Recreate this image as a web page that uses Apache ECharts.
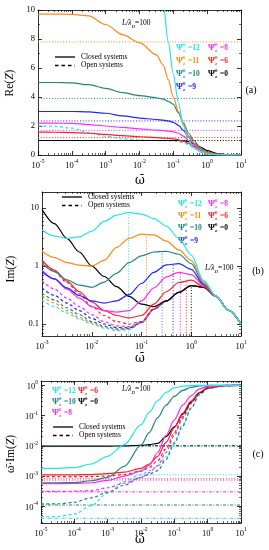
<!DOCTYPE html>
<html><head><meta charset="utf-8">
<script src="https://cdn.jsdelivr.net/npm/echarts@6/dist/echarts.min.js"></script>
<style>html,body{margin:0;padding:0;background:#fff}#c{width:269px;height:550px}</style>
</head><body><div id="c"></div>
<script>
// ================= DATA =================
const C = {cyan:'#22e3ee', orange:'#ff8a12', teal:'#23847f', blue:'#2323ff', magenta:'#ff28ff', red:'#ff2020', black:'#000000'};

// ---- Panel (a): Re(Z) vs log10(omega) ----
const expA = [-5,-4.5,-4,-3.5,-3,-2.5,-2,-1.5,-1.3,-1.15,-1,-0.85,-0.7,-0.55,-0.4,-0.2,0,0.3,0.6,1];
const reCyan    = [40,40,40,40,40,40,32,17,10.4,7.8,5.6,3.6,2.0,1.0,0.5,0.2,0.07,0.015,0.003,0];
const reOrange  = [9.72,9.72,9.7,9.6,9.0,8.3,7.75,6.9,6.2,5.2,4.0,3.0,2.1,1.3,0.83,0.38,0.16,0.04,0.01,0];
const reTeal    = [5.0,5.0,4.97,4.85,4.6,4.3,4.1,3.95,3.85,3.7,3.5,2.9,2.2,1.5,1.0,0.5,0.2,0.05,0.01,0];
const reBlue    = [3.0,3.0,3.0,2.97,2.88,2.7,2.55,2.45,2.4,2.35,2.25,2.05,1.7,1.25,0.8,0.4,0.17,0.05,0.01,0];
const reMagenta = [2.2,2.2,2.18,2.1,2.0,1.9,1.8,1.72,1.68,1.65,1.6,1.5,1.3,1.0,0.68,0.35,0.15,0.05,0.01,0];
const reRed     = [1.58,1.57,1.55,1.5,1.42,1.33,1.26,1.2,1.17,1.14,1.11,1.05,0.95,0.8,0.6,0.35,0.18,0.06,0.01,0];
const reBlack   = [1,1,1,1,1,1,1,1,1,1,1,1,0.98,0.93,0.8,0.55,0.3,0.1,0.02,0];
const reCyanOpen= [2.0,1.98,1.85,1.55,1.3,1.12,1.03,1.0,0.99,0.98,0.97,0.93,0.85,0.7,0.5,0.27,0.1,0.02,0.004,0];
const reLimitVals   = [7.8, 3.9, 2.35, 1.7, 1.2, 1.0];
const reLimitColors = ['orange','teal','blue','magenta','red','black'];

// ---- Panel (b): Im(Z) ----
const expB = [-3,-2.75,-2.5,-2.25,-2,-1.75,-1.5,-1.25,-1,-0.75,-0.5,-0.25,0,0.25,0.5,0.75,1];
const imCyan    = [4.2,3.3,3.0,3.2,4.0,5.9,7.6,8.4,7.9,6.6,4.9,3.0,1.55,0.56,0.3,0.172,0.1];
const imOrange  = [1.8,1.4,1.15,1.04,1.0,1.25,2.1,3.0,3.55,3.45,2.7,1.9,1.25,0.53,0.3,0.172,0.1];
const imTeal    = [1.11,0.8,0.58,0.47,0.43,0.53,0.75,1.15,1.5,1.75,1.8,1.6,1.1,0.5,0.3,0.172,0.1];
const imBlue    = [0.8,0.6,0.42,0.31,0.25,0.23,0.25,0.32,0.5,0.78,1.05,1.1,0.88,0.48,0.3,0.172,0.1];
const imMagenta = [0.85,0.6,0.4,0.28,0.2,0.17,0.16,0.17,0.25,0.42,0.65,0.78,0.71,0.46,0.3,0.172,0.1];
const imRed     = [1.26,0.85,0.55,0.36,0.24,0.17,0.14,0.127,0.14,0.22,0.36,0.52,0.57,0.44,0.3,0.172,0.1];
const imBlack   = [9.5,5.4,3.0,1.75,1.0,0.66,0.44,0.3,0.22,0.2,0.25,0.35,0.46,0.43,0.3,0.172,0.1];
const imCyanOpen    = [0.26,0.2,0.155,0.122,0.1,0.085,0.077,0.08,0.105,0.18,0.25,0.35,0.46,0.43,0.3,0.172,0.1];
const imOrangeOpen  = [0.3,0.23,0.17,0.13,0.105,0.088,0.08,0.082,0.105,0.18,0.25,0.35,0.46,0.43,0.3,0.172,0.1];
const imTealOpen    = [0.34,0.26,0.19,0.145,0.11,0.092,0.082,0.083,0.105,0.18,0.25,0.35,0.46,0.43,0.3,0.172,0.1];
const imBlueOpen    = [0.42,0.31,0.23,0.17,0.125,0.1,0.087,0.086,0.106,0.18,0.25,0.35,0.46,0.43,0.3,0.172,0.1];
const imMagentaOpen = [0.56,0.4,0.28,0.2,0.145,0.11,0.093,0.09,0.108,0.18,0.25,0.35,0.46,0.43,0.3,0.172,0.1];
const imRedOpen     = [1.2,0.8,0.52,0.33,0.2,0.14,0.11,0.1,0.11,0.185,0.25,0.35,0.46,0.43,0.3,0.172,0.1];
const peakExpB = [-1.26,-0.9,-0.585,-0.365,-0.22,-0.1,0.0];
const peakImB  = [8.4,3.6,1.82,1.12,0.79,0.58,0.47];
const peakColors = ['cyan','orange','teal','blue','magenta','red','black'];

// ---- Panel (c): omega*Im(Z) ----
const expC = [-5,-4.5,-4,-3.5,-3,-2.5,-2,-1.75,-1.5,-1.25,-1,-0.75,-0.5,-0.25,0,0.5,1];
const wiCyan    = [1.8e-3,1.8e-3,1.9e-3,2.5e-3,4.5e-3,0.011,0.05,0.13,0.31,0.58,0.82,0.94,0.98,1,1,1,1];
const wiTeal    = [6e-4,6e-4,6.1e-4,7e-4,9e-4,2.1e-3,0.0105,0.028,0.085,0.22,0.43,0.68,0.86,0.95,0.99,1,1];
const wiMagenta = [5.6e-4,5.6e-4,5.7e-4,6e-4,7.2e-4,1e-3,1.45e-3,2.3e-3,6e-3,0.022,0.072,0.22,0.45,0.76,0.93,0.99,1];
const wiRed     = [1.1e-3,1.1e-3,1.1e-3,1.12e-3,1.2e-3,1.35e-3,1.8e-3,2.5e-3,4.5e-3,0.013,0.04,0.12,0.3,0.58,0.83,0.98,1];
const wiBlack   = [0.0098,0.0098,0.0098,0.0098,0.0098,0.0099,0.0103,0.011,0.012,0.02,0.042,0.11,0.28,0.56,0.82,0.98,1];
const wiCyanOpen    = [4.5e-5,4.6e-5,5.5e-5,1.05e-4,2.7e-4,6.6e-4,1.1e-3,1.5e-3,2.1e-3,4.2e-3,0.013,0.05,0.18,0.5,0.8,0.98,1];
const wiTealOpen    = [1.2e-4,1.2e-4,1.35e-4,1.9e-4,2.9e-4,5e-4,9e-4,1.15e-3,1.5e-3,3.5e-3,0.012,0.045,0.17,0.48,0.78,0.98,1];
const wiMagentaOpen = [3.1e-4,3.1e-4,3.15e-4,3.3e-4,4.1e-4,5.8e-4,8.8e-4,1.3e-3,2.2e-3,6e-3,0.022,0.08,0.25,0.58,0.85,0.99,1];
const wiRedOpen     = [9.5e-4,9.5e-4,9.5e-4,9.6e-4,1.0e-3,1.12e-3,1.45e-3,1.9e-3,3.2e-3,8e-3,0.027,0.09,0.26,0.56,0.84,0.99,1];
const wiLimitVals   = [0.0093, 1.1e-3, 8.1e-4, 7.3e-4, 3e-4, 1.1e-4, 4e-5];
const wiLimitColors = ['cyan','cyan','red','magenta','magenta','teal','cyan'];
const wiLimitDash   = ['dot','dot','dot','dot','dashdot','dashdot','dashdot'];

// axis ranges and tick labels
const xRangeA = [-5, 1], yRangeA = [0, 10];
const xRangeB = [-3, 1], yRangeB = [0.062, 19];
const xRangeC = [-5, 1], yRangeC = [2.8e-5, 1.39];
const yTicksA = [0,2,4,6,8,10];
const yTickLabelsB = {'-1':'0.1','0':'1','1':'10'};

// ================= BUILD =================
const SERIF = '"Liberation Serif","Times New Roman",serif';
const L10 = Math.log10;
const xAxes = [], yAxes = [], series = [];
const rich = {
  b:{fontSize:8.5, fontFamily:SERIF, color:'#000', verticalAlign:'bottom', lineHeight:11},
  s:{fontSize:5.5, fontFamily:SERIF, color:'#000', verticalAlign:'top', lineHeight:6}
};
function range(a,b){const r=[];for(let i=Math.ceil(a);i<=Math.floor(b);i++)r.push(i);return r;}
function logMinors(a,b){const r=[];for(let n=Math.floor(a)-1;n<=Math.ceil(b);n++){for(let k=2;k<=9;k++){const v=n+L10(k);if(v>a&&v<b)r.push(v);}}return r;}
const powFmt = v => '{b|10}{s|' + Math.round(v) + '}';

function addAxisPair(arr, gridIndex, pos, min, max, majors, minors, labelCfg){
  const base = {type:'value', gridIndex, position:pos, min, max, splitLine:{show:false}, axisPointer:{show:false}, silent:true};
  const idx = arr.length;
  arr.push(Object.assign({}, base, {
    axisLine:{show:true, onZero:false, lineStyle:{color:'#000', width:0.8}},
    axisTick:{show:true, inside:true, length:4, customValues:majors, lineStyle:{color:'#000', width:0.8}},
    axisLabel: labelCfg ? Object.assign({show:true, customValues:majors, fontFamily:SERIF, fontSize:8.5, color:'#000', rich}, labelCfg) : {show:false}
  }));
  arr.push(Object.assign({}, base, {
    axisLine:{show:false, onZero:false},
    axisTick:{show:true, inside:true, length:2, customValues:minors, lineStyle:{color:'#000', width:0.6}},
    axisLabel:{show:false}
  }));
  return idx;
}

const grids = [
  {left:38, top:10, width:203, height:145},
  {left:42, top:192, width:199, height:144},
  {left:41, top:381, width:200, height:142}
];

function panelAxes(g, xr, yr, yMaj, yMin, yLabelCfg){
  const xMaj = range(xr[0], xr[1]), xMin = logMinors(xr[0], xr[1]);
  const xi = addAxisPair(xAxes, g, 'bottom', xr[0], xr[1], xMaj, xMin, {formatter:powFmt, margin:4});
  addAxisPair(xAxes, g, 'top', xr[0], xr[1], xMaj, xMin, null);
  const yi = addAxisPair(yAxes, g, 'left', yr[0], yr[1], yMaj, yMin, yLabelCfg);
  addAxisPair(yAxes, g, 'right', yr[0], yr[1], yMaj, yMin, null);
  return [xi, yi];
}

const [xA, yA] = panelAxes(0, xRangeA, yRangeA, yTicksA, [1,3,5,7,9], {margin:3, fontSize:8.5});
const yrB = [L10(yRangeB[0]), L10(yRangeB[1])];
const [xB, yB] = panelAxes(1, xRangeB, yrB, range(yrB[0], yrB[1]), logMinors(yrB[0], yrB[1]), {margin:3, fontSize:8.5, formatter: v => yTickLabelsB[String(Math.round(v))]});
const yrC = [L10(yRangeC[0]), L10(yRangeC[1])];
const [xC, yC] = panelAxes(2, xRangeC, yrC, range(yrC[0], yrC[1]), logMinors(yrC[0], yrC[1]), {margin:3, formatter: powFmt});

function dashType(d){ return d==='dash' ? [3,2.5] : d==='dot' ? [1,1.8] : d==='dashdot' ? [3,1.5,1,1.5] : 'solid'; }
function curve(xi, yi, xs, ys, color, dash, ylog, w){
  series.push({type:'line', xAxisIndex:xi, yAxisIndex:yi,
    data: xs.map((e,i)=>[e, ylog ? L10(ys[i]) : ys[i]]),
    showSymbol:false, symbol:'none', smooth:0.3, smoothMonotone:'x', clip:true, silent:true,
    lineStyle:{color:C[color], width:w||1.2, type:dashType(dash)}, z: dash==='solid'?4:3});
}
function seg(xi, yi, pts, color, dash, w){
  series.push({type:'line', xAxisIndex:xi, yAxisIndex:yi, data:pts, showSymbol:false, symbol:'none', clip:true, silent:true,
    lineStyle:{color:C[color], width:w||1, type:dashType(dash)}, z:2});
}

// Panel (a)
reLimitVals.forEach((v,i)=>seg(xA, yA, [[xRangeA[0], v],[xRangeA[1], v]], reLimitColors[i], 'dot'));
curve(xA, yA, expA, reCyanOpen, 'cyan', 'dash', false);
curve(xA, yA, expA, reBlack, 'black', 'solid', false);
curve(xA, yA, expA, reRed, 'red', 'solid', false);
curve(xA, yA, expA, reMagenta, 'magenta', 'solid', false);
curve(xA, yA, expA, reBlue, 'blue', 'solid', false);
curve(xA, yA, expA, reTeal, 'teal', 'solid', false);
curve(xA, yA, expA, reOrange, 'orange', 'solid', false);
curve(xA, yA, expA, reCyan, 'cyan', 'solid', false);

// Panel (b)
peakExpB.forEach((e,i)=>seg(xB, yB, [[e, yrB[0]],[e, L10(peakImB[i])]], peakColors[i], 'dot'));
curve(xB, yB, expB, imCyanOpen, 'cyan', 'dash', true);
curve(xB, yB, expB, imOrangeOpen, 'orange', 'dash', true);
curve(xB, yB, expB, imTealOpen, 'teal', 'dash', true);
curve(xB, yB, expB, imBlueOpen, 'blue', 'dash', true);
curve(xB, yB, expB, imMagentaOpen, 'magenta', 'dash', true);
curve(xB, yB, expB, imRedOpen, 'red', 'dash', true);
curve(xB, yB, expB, imBlack, 'black', 'solid', true);
curve(xB, yB, expB, imRed, 'red', 'solid', true);
curve(xB, yB, expB, imMagenta, 'magenta', 'solid', true);
curve(xB, yB, expB, imBlue, 'blue', 'solid', true);
curve(xB, yB, expB, imTeal, 'teal', 'solid', true);
curve(xB, yB, expB, imOrange, 'orange', 'solid', true);
curve(xB, yB, expB, imCyan, 'cyan', 'solid', true);

// Panel (c)
wiLimitVals.forEach((v,i)=>seg(xC, yC, [[xRangeC[0], L10(v)],[xRangeC[1], L10(v)]], wiLimitColors[i], wiLimitDash[i]));
seg(xC, yC, [[-2, L10(0.01)],[xRangeC[1], L10(0.01)]], 'black', 'dashdot');
curve(xC, yC, expC, wiCyanOpen, 'cyan', 'dash', true);
curve(xC, yC, expC, wiTealOpen, 'teal', 'dash', true);
curve(xC, yC, expC, wiMagentaOpen, 'magenta', 'dash', true);
curve(xC, yC, expC, wiRedOpen, 'red', 'dash', true);
curve(xC, yC, expC, wiBlack, 'black', 'solid', true);
curve(xC, yC, expC, wiRed, 'red', 'solid', true);
curve(xC, yC, expC, wiMagenta, 'magenta', 'solid', true);
curve(xC, yC, expC, wiTeal, 'teal', 'solid', true);
curve(xC, yC, expC, wiCyan, 'cyan', 'solid', true);

// ================= TEXT / ANNOTATIONS =================
const graphic = [];
function txt(x, y, text, opt){
  graphic.push(Object.assign({type:'text', x, y, silent:true, style:Object.assign({text, fill:'#000', font:'9px '+SERIF, align:'left', verticalAlign:'middle'}, opt && opt.style || {})}, opt && opt.el || {}));
}
function psi(x, y, color, val){
  const f = C[color];
  graphic.push({type:'group', x, y, silent:true, children:[
    {type:'text', x:0, y:0, style:{text:'Ψ', font:'bold 9px '+SERIF, fill:f, verticalAlign:'middle'}},
    {type:'text', x:7, y:-3, style:{text:'0', font:'bold 5px '+SERIF, fill:f, verticalAlign:'middle'}},
    {type:'text', x:7, y:3, style:{text:'z', font:'bold 5px '+SERIF, fill:f, verticalAlign:'middle'}},
    {type:'text', x:12, y:0.5, style:{text:'=' + val, font:'bold 7.5px '+SERIF, fill:f, verticalAlign:'middle'}}
  ]});
}
function legend(x, y){
  graphic.push({type:'line', silent:true, shape:{x1:x, y1:y, x2:x+20, y2:y}, style:{stroke:'#000', lineWidth:1.3}});
  graphic.push({type:'line', silent:true, shape:{x1:x, y1:y+8.5, x2:x+20, y2:y+8.5}, style:{stroke:'#000', lineWidth:1.3, lineDash:[3.5,3]}});
  txt(x+26, y, 'Closed systems', {style:{font:'7.5px '+SERIF}});
  txt(x+26, y+8.5, 'Open systems', {style:{font:'7.5px '+SERIF}});
}
function ld(x, y){
  graphic.push({type:'text', x, y, silent:true, style:{text:'{i|L/λ}{s|D}{n|=100}', verticalAlign:'middle',
    rich:{i:{font:'italic 7.5px '+SERIF, fill:'#000', verticalAlign:'top', lineHeight:10}, s:{font:'italic 5px '+SERIF, fill:'#000', verticalAlign:'bottom', lineHeight:6}, n:{font:'7.5px '+SERIF, fill:'#000', verticalAlign:'top', lineHeight:10}}}});
}
function ytitle(x, y, pre, post){
  graphic.push({type:'text', x, y, rotation:Math.PI/2, silent:true, style:{text:'{n|'+pre+'}{i|Z}{n|'+post+')}', align:'center', verticalAlign:'middle',
    rich:{n:{font:'11.5px '+SERIF, fill:'#000'}, i:{font:'italic 11.5px '+SERIF, fill:'#000'}}}});
}

// panel (a)
ld(122, 24);
legend(55, 57);
psi(176, 48, 'cyan', '12'); psi(208, 48, 'magenta', '8');
psi(176, 61, 'orange', '11'); psi(208, 61, 'red', '6');
psi(176, 74, 'teal', '10'); psi(208, 74, 'black', '0');
psi(176, 87, 'blue', '9');
txt(251, 90, '(a)', {style:{font:'10px '+SERIF, align:'center'}});
ytitle(10, 83, 'Re(', '');
txt(140, 181, 'ω̄', {style:{font:'12px "DejaVu Serif",serif', align:'center'}});

// panel (b)
legend(62, 197);
psi(178, 204, 'cyan', '12'); psi(208, 204, 'magenta', '8');
psi(178, 216, 'orange', '11'); psi(208, 216, 'red', '6');
psi(178, 228, 'teal', '10'); psi(208, 228, 'black', '0');
psi(178, 241, 'blue', '9');
ld(205, 269);
txt(258, 271, '(b)', {style:{font:'10px '+SERIF, align:'center'}});
ytitle(11, 269, 'Im(', '');
txt(140, 359, 'ω̄', {style:{font:'12px "DejaVu Serif",serif', align:'center'}});

// panel (c)
psi(52, 391, 'cyan', '12'); psi(78, 391, 'red', '6');
psi(52, 402, 'teal', '10'); psi(78, 402, 'black', '0');
psi(52, 413, 'magenta', '8');
legend(53, 427);
ld(122, 390);
txt(258, 454, '(c)', {style:{font:'10px '+SERIF, align:'center'}});
ytitle(11, 454, 'ω̄·Im(', '');
txt(140, 540, 'ω̄', {style:{font:'12px "DejaVu Serif",serif', align:'center'}});

const chart = echarts.init(document.getElementById('c'), null, {renderer:'canvas'});
chart.setOption({animation:false, backgroundColor:'#fff', grid:grids.map(g=>Object.assign({containLabel:false}, g)),
  xAxis:xAxes, yAxis:yAxes, series, graphic});
</script></body></html>
